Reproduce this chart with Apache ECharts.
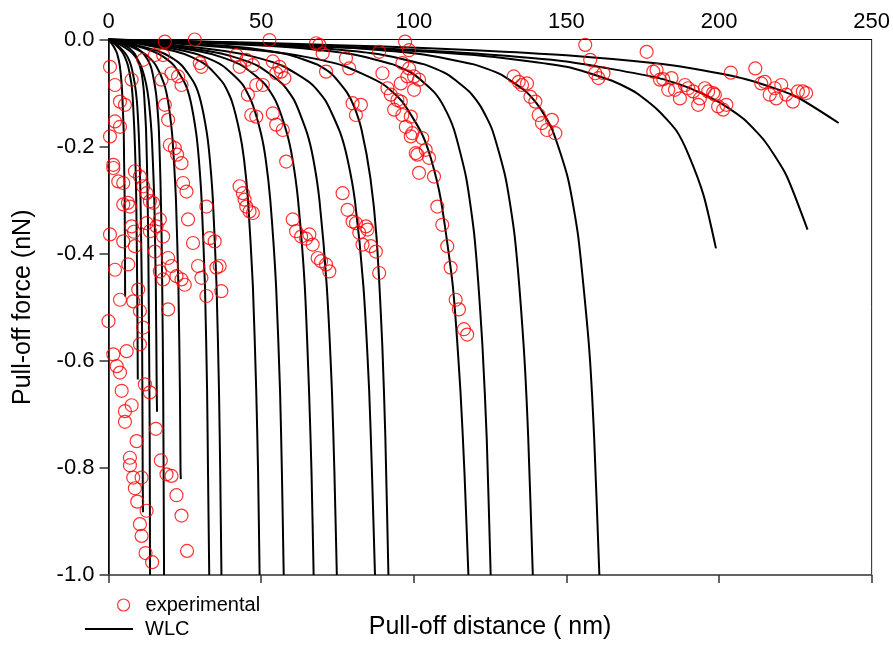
<!DOCTYPE html>
<html><head><meta charset="utf-8">
<script src="https://cdn.jsdelivr.net/npm/echarts@6/dist/echarts.min.js"></script>
<style>html,body{margin:0;padding:0;background:#fff}#chart{width:893px;height:645px}</style>
</head><body><div id="chart"></div>
<script>
// axis ranges / ticks
const xRange = [0, 250];
const xStep = 50;
const yRange = [-1.0, 0.0];
const yStep = 0.2;

// experimental points: pull-off distance (nm)
const expDistance = [
18.45,28.25,52.74,15.19,17.90,11.36,0.49,29.88,30.44,41.87,45.13,42.95,47.29,53.82,56.01,54.93,56.56,20.64,22.80,23.91,
17.37,7.58,2.12,48.40,50.55,45.66,3.76,5.39,18.45,46.77,48.40,53.82,54.93,57.09,2.12,3.76,19.53,0.49,20.08,21.72,
22.47,23.91,58.20,1.57,1.57,3.20,4.83,8.65,10.29,11.36,12.48,13.55,14.63,24.43,25.54,42.95,44.02,44.58,45.13,46.21,
47.29,4.83,7.02,32.07,26.06,60.35,7.58,12.48,15.74,6.37,16.82,13.55,8.33,0.49,4.83,8.65,17.90,27.69,33.15,34.78,
61.46,15.19,2.12,6.47,19.53,20.64,16.82,17.90,22.27,23.91,24.98,29.33,30.44,35.34,36.41,32.07,36.97,3.76,8.10,9.73,
10.29,19.53,0.0,11.36,10.29,5.94,1.57,2.68,3.76,11.92,13.55,4.31,7.58,5.39,5.39,15.51,9.21,7.02,7.02,17.14,
19.01,20.64,8.10,10.84,8.65,22.27,9.41,12.48,23.91,10.29,10.84,12.15,25.73,14.30,
67.99,69.07,70.15,77.79,78.87,71.26,57.64,88.67,97.16,98.46,96.27,98.46,89.74,97.91,100.10,101.73,95.75,91.38,92.49,100.10,
94.64,95.75,79.95,82.69,81.06,93.57,96.27,99.02,97.39,99.54,99.02,102.81,100.65,101.18,103.92,105.00,101.73,106.63,76.68,78.31,
107.71,79.95,81.06,84.32,63.10,64.73,65.81,66.88,68.52,69.63,71.26,72.34,82.14,84.85,83.21,85.96,87.59,88.67,109.34,110.97,
112.08,113.72,114.79,116.43,117.50,
156.17,157.80,159.43,160.51,162.15,176.29,178.47,179.55,180.66,181.74,184.45,183.37,185.56,187.19,188.83,189.91,191.54,193.17,195.36,196.44,
198.07,198.63,193.73,199.70,201.34,202.41,203.85,211.88,213.84,214.96,216.59,218.74,218.22,220.38,222.01,224.20,225.83,227.46,228.54,
132.75,134.39,135.46,137.10,138.21,139.84,140.92,142.00,143.63,145.26,146.37
];
// experimental points: pull-off force (nN)
const expForce = [
-0.004,0.000,-0.001,-0.029,-0.029,-0.038,-0.051,-0.044,-0.051,-0.029,-0.038,-0.051,-0.048,-0.041,-0.051,-0.063,-0.060,-0.063,-0.069,-0.085,
-0.075,-0.075,-0.085,-0.085,-0.085,-0.103,-0.116,-0.122,-0.122,-0.141,-0.144,-0.138,-0.159,-0.169,-0.153,-0.163,-0.150,-0.181,-0.197,-0.203,
-0.215,-0.231,-0.228,-0.234,-0.240,-0.265,-0.268,-0.246,-0.256,-0.274,-0.287,-0.302,-0.305,-0.268,-0.284,-0.274,-0.287,-0.299,-0.312,-0.321,
-0.324,-0.308,-0.312,-0.312,-0.336,-0.336,-0.349,-0.343,-0.349,-0.305,-0.336,-0.358,-0.359,-0.364,-0.377,-0.386,-0.368,-0.380,-0.371,-0.377,
-0.358,-0.396,-0.430,-0.420,-0.408,-0.423,-0.433,-0.448,-0.442,-0.448,-0.458,-0.423,-0.445,-0.426,-0.423,-0.479,-0.470,-0.486,-0.489,-0.467,
-0.507,-0.504,-0.526,-0.538,-0.569,-0.582,-0.588,-0.610,-0.622,-0.644,-0.659,-0.656,-0.683,-0.694,-0.714,-0.727,-0.750,-0.781,-0.795,-0.786,
-0.812,-0.815,-0.818,-0.818,-0.838,-0.851,-0.863,-0.880,-0.889,-0.905,-0.927,-0.959,-0.955,-0.976,
-0.007,-0.010,-0.026,-0.035,-0.054,-0.060,-0.072,-0.023,-0.004,-0.020,-0.044,-0.054,-0.063,-0.069,-0.069,-0.075,-0.082,-0.091,-0.103,-0.094,
-0.113,-0.116,-0.119,-0.122,-0.141,-0.131,-0.141,-0.144,-0.163,-0.175,-0.181,-0.184,-0.212,-0.215,-0.206,-0.221,-0.249,-0.256,-0.287,-0.318,
-0.312,-0.340,-0.343,-0.349,-0.368,-0.372,-0.364,-0.383,-0.408,-0.414,-0.420,-0.433,-0.361,-0.355,-0.383,-0.386,-0.396,-0.436,-0.346,-0.386,
-0.426,-0.486,-0.504,-0.541,-0.551,
-0.010,-0.038,-0.063,-0.072,-0.063,-0.023,-0.060,-0.057,-0.075,-0.074,-0.072,-0.094,-0.094,-0.110,-0.085,-0.091,-0.097,-0.122,-0.091,-0.097,
-0.100,-0.103,-0.110,-0.125,-0.131,-0.122,-0.062,-0.054,-0.082,-0.079,-0.103,-0.110,-0.091,-0.085,-0.103,-0.116,-0.097,-0.097,-0.100,
-0.069,-0.079,-0.085,-0.082,-0.107,-0.116,-0.141,-0.156,-0.169,-0.150,-0.175
];

// WLC fit curves, [distance nm, force nN]
const wlcA = [[0,0],[30,-0.0037],[60,-0.008],[90,-0.0132],[120,-0.0199],[150,-0.0295],[180,-0.045],[195,-0.058],[210,-0.076],[225,-0.106],[239.2,-0.156]];
const wlcB = [[0,0],[30,-0.0045],[60,-0.0099],[90,-0.0166],[120,-0.026],[150,-0.041],[180,-0.0717],[190,-0.09],[200,-0.117],[208,-0.148],[215,-0.19],[222,-0.253],[229,-0.355]];
const wlcC = [[0,0],[30,-0.005],[60,-0.011],[90,-0.018],[120,-0.029],[150,-0.051],[165,-0.077],[173,-0.1],[180,-0.132],[186,-0.17],[190,-0.215],[195,-0.292],[199,-0.39]];
const wlcD = [[0,0],[34.2,-0.0049],[68.4,-0.0122],[85.5,-0.018],[102.6,-0.0275],[119.7,-0.0465],[128.3,-0.0648],[136.9,-0.0979],[141.1,-0.1258],[145.4,-0.1686],[150.5,-0.259],[153.9,-0.369],[157.4,-0.572],[159.1,-0.744],[160.8,-1]];
const wlcE = [[0,0],[29.6,-0.0049],[59.1,-0.0122],[73.9,-0.018],[88.7,-0.0275],[103.5,-0.0465],[110.9,-0.0648],[118.3,-0.0979],[122.0,-0.1258],[125.7,-0.1686],[130.1,-0.259],[133.1,-0.369],[136.0,-0.572],[137.5,-0.744],[139.0,-1]];
const wlcF = [[0,0],[26.6,-0.0049],[53.3,-0.0122],[66.6,-0.018],[79.9,-0.0275],[93.2,-0.0465],[99.9,-0.0648],[106.6,-0.0979],[109.9,-0.1258],[113.2,-0.1686],[117.2,-0.259],[119.9,-0.369],[122.5,-0.572],[123.9,-0.744],[125.2,-1]];
const wlcG = [[0,0],[25.6,-0.0087],[51.3,-0.0216],[64.1,-0.032],[76.9,-0.049],[89.7,-0.0826],[96.1,-0.1152],[102.5,-0.174],[105.7,-0.2237],[108.9,-0.300],[112.8,-0.4606],[115.3,-0.657],[116.6,-0.807],[117.9,-1]];
const wlcH = [[0,0],[19.5,-0.0049],[39.0,-0.0122],[48.8,-0.018],[58.5,-0.0275],[68.3,-0.0465],[73.2,-0.0648],[78.0,-0.0979],[80.5,-0.1258],[82.9,-0.1686],[85.8,-0.259],[87.8,-0.369],[89.7,-0.572],[90.7,-0.744],[91.7,-1]];
const wlcI = [[0,0],[19.0,-0.0087],[38.0,-0.0216],[47.4,-0.032],[56.9,-0.049],[66.4,-0.0826],[71.2,-0.1152],[75.9,-0.174],[78.3,-0.2237],[80.7,-0.300],[83.5,-0.4606],[85.4,-0.657],[86.3,-0.807],[87.3,-1]];
const wlcJ = [[0,0],[16.3,-0.0087],[32.5,-0.0216],[40.7,-0.032],[48.8,-0.049],[56.9,-0.0826],[61.0,-0.1152],[65.0,-0.174],[67.1,-0.2237],[69.1,-0.300],[71.5,-0.4606],[73.2,-0.657],[74.0,-0.807],[74.8,-1]];
const wlcK = [[0,0],[14.6,-0.0087],[29.2,-0.0216],[36.5,-0.032],[43.8,-0.049],[51.1,-0.0826],[54.8,-0.1152],[58.4,-0.174],[60.3,-0.2237],[62.1,-0.300],[64.3,-0.4606],[65.7,-0.657],[66.5,-0.807],[67.2,-1]];
const wlcL = [[0,0],[12.5,-0.0087],[25.0,-0.0216],[31.2,-0.032],[37.4,-0.049],[43.7,-0.0826],[46.8,-0.1152],[49.9,-0.174],[51.5,-0.2237],[53.0,-0.300],[54.9,-0.4606],[56.2,-0.657],[56.8,-0.807],[57.4,-1]];
const wlcM = [[0,0],[10.8,-0.0087],[21.5,-0.0216],[26.9,-0.032],[32.3,-0.049],[37.7,-0.0826],[40.4,-0.1152],[43.0,-0.174],[44.4,-0.2237],[45.7,-0.300],[47.3,-0.4606],[48.4,-0.657],[49.0,-0.807],[49.5,-1]];
const wlcN = [[0,0],[8.0,-0.0087],[16.1,-0.0216],[20.1,-0.032],[24.1,-0.049],[28.2,-0.0826],[30.2,-0.1152],[32.2,-0.174],[33.2,-0.2237],[34.2,-0.300],[35.4,-0.4606],[36.2,-0.657],[36.6,-0.807],[37.0,-1]];
const wlcO = [[0,0],[7.2,-0.0087],[14.3,-0.0216],[17.9,-0.032],[21.5,-0.049],[25.1,-0.0826],[26.9,-0.1152],[28.7,-0.174],[29.6,-0.2237],[30.5,-0.300],[31.6,-0.4606],[32.3,-0.657],[32.6,-0.807],[33.0,-1]];
const wlcP = [[0,0],[3.9,-0.0049],[7.7,-0.0122],[9.7,-0.018],[11.6,-0.0275],[13.6,-0.0465],[14.5,-0.0648],[15.5,-0.0979],[16.0,-0.1258],[16.5,-0.1686],[17.0,-0.259],[17.4,-0.369],[17.8,-0.572],[18.0,-0.744],[18.2,-1]];
const wlcQ = [[0,0],[2.9,-0.0049],[5.8,-0.0122],[7.2,-0.018],[8.7,-0.0275],[10.1,-0.0465],[10.9,-0.0648],[11.6,-0.0979],[11.9,-0.1258],[12.3,-0.1686],[12.7,-0.259],[13.0,-0.369],[13.3,-0.572],[13.5,-0.744],[13.6,-1]];
const wlcR = [[0,0],[5.2,-0.0087],[10.4,-0.0216],[13.0,-0.032],[15.6,-0.049],[18.2,-0.0826],[19.5,-0.1152],[20.8,-0.174],[21.4,-0.2237],[22.1,-0.300],[22.9,-0.4606],[23.4,-0.657],[23.6,-0.807],[23.7,-0.821]];
const wlcS = [[0,0],[3.5,-0.0087],[7.0,-0.0216],[8.8,-0.032],[10.6,-0.049],[12.3,-0.0826],[13.2,-0.1152],[14.1,-0.174],[14.5,-0.2237],[15.0,-0.300],[15.5,-0.4606],[15.8,-0.657],[15.9,-0.695]];
const wlcT = [[0,0],[2.5,-0.0087],[4.9,-0.0216],[6.2,-0.032],[7.4,-0.049],[8.6,-0.0826],[9.3,-0.1152],[9.9,-0.174],[10.2,-0.2237],[10.5,-0.300],[10.9,-0.4606],[11.1,-0.657],[11.2,-0.807],[11.3,-0.883]];
const wlcU = [[0,0],[2.1,-0.0087],[4.3,-0.0216],[5.3,-0.032],[6.4,-0.049],[7.5,-0.0826],[8.0,-0.1152],[8.5,-0.174],[8.8,-0.2237],[9.1,-0.300],[9.4,-0.4606],[9.6,-0.635]];
const wlcV = [[0,0],[1.2,-0.0087],[2.5,-0.0216],[3.1,-0.032],[3.7,-0.049],[4.3,-0.0826],[4.6,-0.1152],[5.0,-0.174],[5.1,-0.2237],[5.3,-0.300],[5.45,-0.48]];

const wlcCurves = [wlcA,wlcB,wlcC,wlcD,wlcE,wlcF,wlcG,wlcH,wlcI,wlcJ,wlcK,wlcL,wlcM,wlcN,wlcO,wlcP,wlcQ,wlcR,wlcS,wlcT,wlcU,wlcV];

const FONT = '"Liberation Sans", Arial, sans-serif';
const chart = echarts.init(document.getElementById('chart'), null, {renderer:'canvas'});

const series = wlcCurves.map(c => ({
  name: 'WLC', type: 'line', data: c, showSymbol: false, symbol: 'none',
  smooth: 0.2,
  lineStyle: {color: '#000', width: 2}, itemStyle: {color: '#000'},
  animation: false, z: 2
}));
series.push({
  name: 'experimental', type: 'scatter',
  data: expDistance.map((d, i) => [d, expForce[i]]),
  symbol: 'circle', symbolSize: 13,
  itemStyle: {color: 'rgba(0,0,0,0)', borderColor: '#ff0000', borderWidth: 1.2},
  animation: false, z: 3
});

chart.setOption({
  backgroundColor: '#fff',
  textStyle: {fontFamily: FONT},
  grid: {left: 108.5, right: 19, top: 39.5, bottom: 69, show: true, borderColor: '#222', borderWidth: 1},
  legend: [
    {data: [{name: 'experimental', icon: 'circle', itemStyle: {color: 'rgba(0,0,0,0)', borderColor: '#ff0000', borderWidth: 1.2}}],
     left: 117, top: 595, padding: 0, itemWidth: 12, itemHeight: 12,
     textStyle: {fontFamily: FONT, fontSize: 20, color: '#000', padding: [0,0,0,11]}},
    {data: [{name: 'WLC', icon: 'rect', itemStyle: {color: '#000'}}], left: 85, top: 619, padding: 0, itemWidth: 48, itemHeight: 2,
     textStyle: {fontFamily: FONT, fontSize: 20, color: '#000', padding: [0,0,0,7]}}
  ],
  xAxis: [
    {type: 'value', position: 'top', min: xRange[0], max: xRange[1], interval: xStep,
     axisLine: {show: true, lineStyle: {color: '#000', width: 1}},
     axisTick: {show: false}, splitLine: {show: false},
     axisLabel: {fontFamily: FONT, fontSize: 22, color: '#000', margin: 7}},
    {type: 'value', position: 'bottom', min: xRange[0], max: xRange[1], interval: xStep,
     name: 'Pull-off distance ( nm)', nameLocation: 'middle', nameGap: 40,
     nameTextStyle: {fontFamily: FONT, fontSize: 25, color: '#000'},
     axisLine: {show: true, lineStyle: {color: '#555', width: 1.5}},
     axisTick: {show: true, inside: false, length: 8, lineStyle: {color: '#333', width: 1.5}},
     axisLabel: {show: false}, splitLine: {show: false}}
  ],
  yAxis: [
    {type: 'value', min: yRange[0], max: yRange[1], interval: yStep,
     name: 'Pull-off force (nN)', nameLocation: 'middle', nameGap: 73,
     nameTextStyle: {fontFamily: FONT, fontSize: 25, color: '#000'},
     axisLine: {show: true, lineStyle: {color: '#000', width: 1.5}},
     axisTick: {show: true, inside: false, length: 9, lineStyle: {color: '#333', width: 1.5}},
     axisLabel: {fontFamily: FONT, fontSize: 22, color: '#000', margin: 14,
       formatter: v => (Math.abs(v) < 1e-9 ? '0.0' : v.toFixed(1))},
     splitLine: {show: false}}
  ],
  series: series
});
</script></body></html>
